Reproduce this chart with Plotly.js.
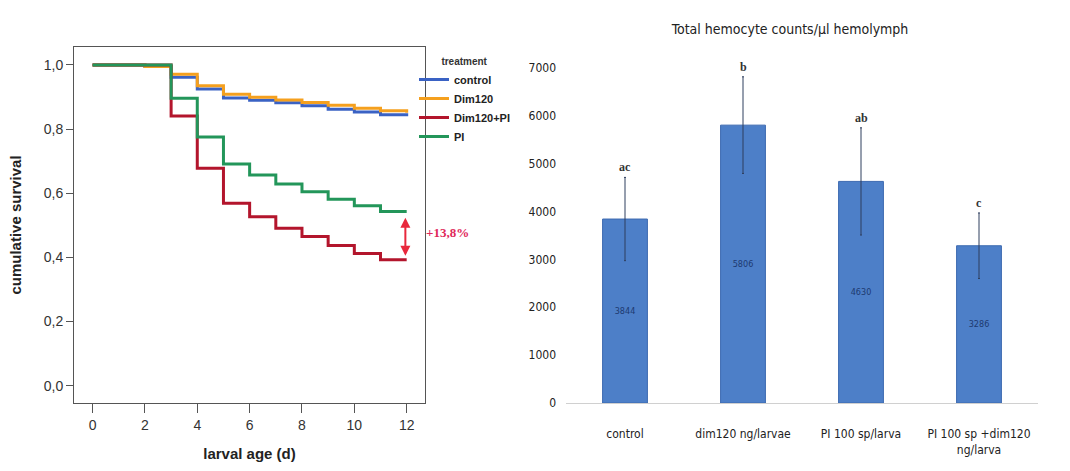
<!DOCTYPE html>
<html>
<head>
<meta charset="utf-8">
<script src="https://cdn.plot.ly/plotly-3.0.1.min.js"></script>
<style>html,body{margin:0;padding:0;background:#fff;}#chart{width:1070px;height:471px;}</style>
</head>
<body>
<div id="chart"></div>
<script>
// ---- Survival data (left panel) ----
const days = [0, 2, 3, 4, 5, 6, 7, 8, 9, 10, 11, 12];
const survControl = [1.0, 0.995, 0.962, 0.925, 0.897, 0.890, 0.882, 0.873, 0.862, 0.853, 0.845, 0.840];
const survDim120 = [1.0, 0.995, 0.971, 0.935, 0.909, 0.899, 0.891, 0.883, 0.874, 0.865, 0.857, 0.851];
const survDim120PI = [1.0, 1.0, 0.841, 0.678, 0.569, 0.527, 0.491, 0.465, 0.437, 0.412, 0.393, 0.393];
const survPI = [1.0, 1.0, 0.896, 0.775, 0.691, 0.657, 0.629, 0.605, 0.581, 0.561, 0.543, 0.543];
const seriesNames = ['control', 'Dim120', 'Dim120+PI', 'PI'];
const survTicks = [0, 0.2, 0.4, 0.6, 0.8, 1.0];
const dayTicks = [0, 2, 4, 6, 8, 10, 12];

// ---- Hemocyte data (right panel) ----
const groups = ['control', 'dim120 ng/larvae', 'PI 100 sp/larva', 'PI 100 sp +dim120<br>ng/larva'];
const hemocytes = [3844, 5806, 4630, 3286];
const hemoErr = [870, 1010, 1120, 685];
const letters = ['ac', 'b', 'ab', 'c'];
const hemoTicks = [0, 1000, 2000, 3000, 4000, 5000, 6000, 7000];

const colors = ['#3a62c4', '#f5a01e', '#b3152c', '#23965a'];
const survSeries = [survControl, survDim120, survDim120PI, survPI];

const narrow = '"DejaVu Sans Condensed", "Liberation Sans Narrow", Arial, sans-serif';
const sans = '"Liberation Sans", Arial, sans-serif';
const serif = '"Liberation Serif", "Times New Roman", serif';

const traces = survSeries.map((s, i) => ({
  type: 'scatter', mode: 'lines', x: days, y: s, name: seriesNames[i],
  line: {shape: 'hv', color: colors[i], width: 3},
  xaxis: 'x', yaxis: 'y', hoverinfo: 'skip'
}));

traces.push({
  type: 'bar', x: groups, y: hemocytes, xaxis: 'x2', yaxis: 'y2', showlegend: false,
  marker: {color: '#4d7fc8', line: {color: '#3d6ab0', width: 1}},
  width: 0.38,
  text: hemocytes.map(v => String(v)), textposition: 'inside', insidetextanchor: 'middle',
  textangle: 0, textfont: {family: narrow, size: 9, color: '#1d3a70'},
  error_y: {type: 'data', array: hemoErr, visible: true, color: '#2f3f5f', thickness: 1, width: 1}
});

const annotations = [
  {xref: 'x', yref: 'y', x: 11.95, y: 0.405, ax: 11.95, ay: 0.528, axref: 'x', ayref: 'y',
   showarrow: true, arrowside: 'end+start', arrowhead: 2, arrowsize: 1, arrowwidth: 2,
   arrowcolor: '#e8283c', text: ''},
  {xref: 'paper', yref: 'y', x: 424 / 1070, xanchor: 'left', y: 0.478, yanchor: 'middle',
   text: '<b>+13,8%</b>', showarrow: false, font: {family: serif, size: 13, color: '#e0285a'}}
];
groups.forEach((g, i) => {
  annotations.push({xref: 'x2', yref: 'y2', x: g, y: hemocytes[i] + hemoErr[i], yanchor: 'bottom',
    yshift: 1, text: '<b>' + letters[i] + '</b>', showarrow: false,
    font: {family: serif, size: 12, color: '#333'}});
});

const layout = {
  width: 1070, height: 471,
  margin: {l: 0, r: 0, t: 0, b: 0},
  paper_bgcolor: '#fff', plot_bgcolor: '#fff',
  separators: ', ',
  showlegend: true,
  title: {text: 'Total hemocyte counts/µl hemolymph', x: 790 / 1070, xanchor: 'center',
    y: 1 - 29 / 471, yanchor: 'middle', font: {family: narrow, size: 14, color: '#222'}},
  legend: {x: 414 / 1070, y: 1 - 52 / 471, xanchor: 'left', yanchor: 'top',
    bgcolor: 'rgba(0,0,0,0)', font: {family: sans, size: 11, color: '#222', weight: 'bold'},
    title: {text: 'treatment', side: 'top center', font: {family: sans, size: 10, color: '#333', weight: 'bold'}},
    itemwidth: 30, tracegroupgap: 0},
  xaxis: {domain: [74 / 1070, 425 / 1070], range: [-0.71, 12.7], tickvals: dayTicks,
    ticks: 'outside', ticklen: 9, tickcolor: '#555', showline: true, linecolor: '#555', linewidth: 1,
    mirror: true, showgrid: false, zeroline: false,
    tickfont: {family: sans, size: 14, color: '#333'},
    title: {text: '<b>larval age (d)</b>', font: {family: sans, size: 15, color: '#222'}, standoff: 16},
    anchor: 'y'},
  yaxis: {domain: [68 / 471, 424 / 471], range: [-0.054, 1.056], tickvals: survTicks,
    tickformat: '.1f', ticks: 'outside', ticklen: 7, tickcolor: '#555',
    showline: true, linecolor: '#555', linewidth: 1, mirror: true, showgrid: false, zeroline: false,
    tickfont: {family: sans, size: 14, color: '#333'},
    title: {text: '<b>cumulative survival</b>', font: {family: sans, size: 15, color: '#222'}, standoff: 18},
    anchor: 'x'},
  xaxis2: {domain: [566 / 1070, 1038 / 1070], range: [-0.5, 3.5], showline: true,
    linecolor: '#d0d0d0', linewidth: 1, ticks: '', showgrid: false, zeroline: false,
    tickfont: {family: narrow, size: 12, color: '#222'}, ticklabelstandoff: 20, anchor: 'y2'},
  yaxis2: {domain: [68 / 471, 403 / 471], range: [0, 7000], tickvals: hemoTicks, tickformat: 'd',
    showline: false, showgrid: false, zeroline: false, ticks: '',
    tickfont: {family: narrow, size: 12, color: '#222'}, ticklabelstandoff: 9, anchor: 'x2'},
  annotations: annotations
};

Plotly.newPlot('chart', traces, layout, {displayModeBar: false, staticPlot: true});
</script>
</body>
</html>
